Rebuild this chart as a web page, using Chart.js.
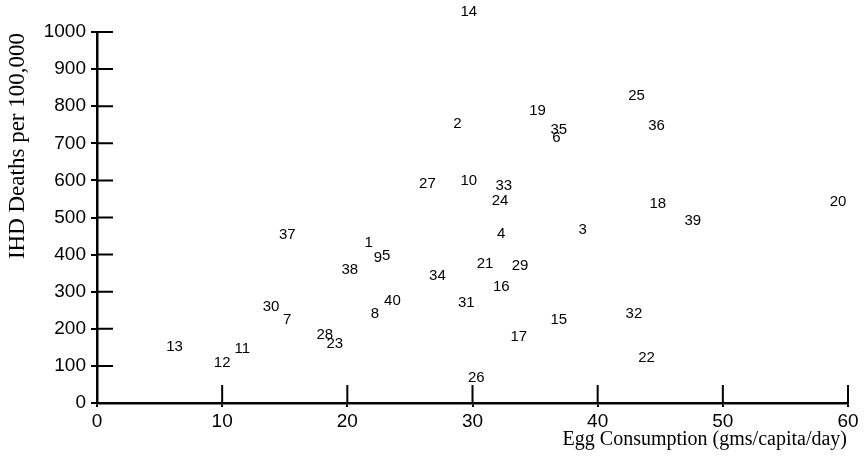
<!DOCTYPE html>
<html>
<head>
<meta charset="utf-8">
<script src="https://cdn.jsdelivr.net/npm/chart.js@4.4.1/dist/chart.umd.min.js"></script>
<style>
  html, body { margin: 0; padding: 0; background: #fff; }
  #wrap { width: 866px; height: 461px; position: relative; }
</style>
</head>
<body>
<div id="wrap"><canvas id="c" width="866" height="461"></canvas></div>
<script>
// Country numbers, each one drawn as its own marker
const countryIds = [
  '1','2','3','4','5','6','7','8','9','10',
  '11','12','13','14','15','16','17','18','19','20',
  '21','22','23','24','25','26','27','28','29','30',
  '31','32','33','34','35','36','37','38','39','40'
];
// Egg consumption, gms/capita/day
const eggConsumption = [
  21.7, 28.8, 38.8, 32.3, 23.1, 36.7, 15.2, 22.2, 22.45, 29.7,
  11.6, 10.0, 6.2, 29.7, 36.9, 32.3, 33.7, 44.8, 35.2, 59.2,
  31.0, 43.9, 19.0, 32.2, 43.1, 30.3, 26.4, 18.2, 33.8, 13.9,
  29.5, 42.9, 32.5, 27.2, 36.9, 44.7, 15.2, 20.2, 47.6, 23.6
];
// IHD deaths per 100,000
const ihdDeaths = [
  432, 752, 466, 457, 396, 714, 223, 239, 392, 599,
  147, 108, 150, 1053, 223, 313, 177, 536, 787, 543,
  374, 121, 160, 544, 828, 67, 592, 183, 370, 258,
  270, 241, 586, 343, 736, 747, 453, 358, 491, 275
];
// Axis ranges and tick spacing
const xTicks = { min: 0, max: 60, step: 10 };
const yTicks = { min: 0, max: 1000, step: 100 };
const xTitle = 'Egg Consumption (gms/capita/day)';
const yTitle = 'IHD Deaths per 100,000';

const points = eggConsumption.map((x, i) => ({ x: x, y: ihdDeaths[i] }));

Chart.defaults.color = '#000';

// Writes each country number at its point
const numberMarkers = {
  id: 'numberMarkers',
  afterDatasetsDraw(chart) {
    const ctx = chart.ctx;
    const meta = chart.getDatasetMeta(0);
    ctx.save();
    ctx.fillStyle = '#000';
    ctx.font = '15px "Liberation Sans", Arial, sans-serif';
    ctx.textAlign = 'center';
    ctx.textBaseline = 'middle';
    meta.data.forEach((el, i) => {
      ctx.fillText(countryIds[i], el.x, el.y);
    });
    ctx.restore();
  }
};

// Tick marks continue inside the plot area, plus the two axis titles
const axisExtras = {
  id: 'axisExtras',
  afterDraw(chart) {
    const ctx = chart.ctx;
    const a = chart.chartArea;
    const xs = chart.scales.x, ys = chart.scales.y;
    ctx.save();
    ctx.strokeStyle = '#000';
    ctx.lineWidth = 2;
    ctx.beginPath();
    ys.ticks.forEach(t => {
      const py = ys.getPixelForValue(t.value);
      ctx.moveTo(a.left, py);
      ctx.lineTo(a.left + 16, py);
    });
    xs.ticks.forEach(t => {
      if (t.value === xTicks.min) return;
      const px = xs.getPixelForValue(t.value);
      ctx.moveTo(px, a.bottom);
      ctx.lineTo(px, a.bottom - 18);
    });
    ctx.stroke();

    ctx.fillStyle = '#000';
    ctx.font = '20px "Liberation Serif", "Times New Roman", serif';
    ctx.textAlign = 'right';
    ctx.textBaseline = 'alphabetic';
    ctx.fillText(xTitle, 847, 445);

    ctx.translate(23.5, 33);
    ctx.rotate(-Math.PI / 2);
    ctx.font = '23px "Liberation Serif", "Times New Roman", serif';
    ctx.textAlign = 'right';
    ctx.fillText(yTitle, 0, 0);
    ctx.restore();
  }
};

new Chart(document.getElementById('c'), {
  type: 'scatter',
  data: {
    datasets: [{
      data: points,
      pointRadius: 0,
      pointHoverRadius: 0,
      showLine: false
    }]
  },
  options: {
    responsive: false,
    animation: false,
    events: [],
    layout: { padding: { top: 32, right: 18, left: 0, bottom: 0 } },
    plugins: { legend: { display: false }, tooltip: { enabled: false } },
    scales: {
      x: {
        type: 'linear',
        min: xTicks.min, max: xTicks.max,
        afterFit(s) { s.height = 58; },
        border: { display: true, color: '#000', width: 2.5 },
        grid: { drawOnChartArea: false, drawTicks: true, tickLength: 4, color: '#000', lineWidth: 2 },
        ticks: {
          stepSize: xTicks.step, padding: 3, color: '#000',
          callback: v => String(v),
          font: { family: '"Liberation Sans", Arial, sans-serif', size: 19 }
        }
      },
      y: {
        type: 'linear',
        min: yTicks.min, max: yTicks.max,
        afterFit(s) { s.width = 97; },
        border: { display: true, color: '#000', width: 2.5 },
        grid: { drawOnChartArea: false, drawTicks: true, tickLength: 6, color: '#000', lineWidth: 2 },
        ticks: {
          stepSize: yTicks.step, padding: 5, color: '#000',
          callback: v => String(v),
          font: { family: '"Liberation Sans", Arial, sans-serif', size: 19 }
        }
      }
    }
  },
  plugins: [numberMarkers, axisExtras]
});
</script>
</body>
</html>
